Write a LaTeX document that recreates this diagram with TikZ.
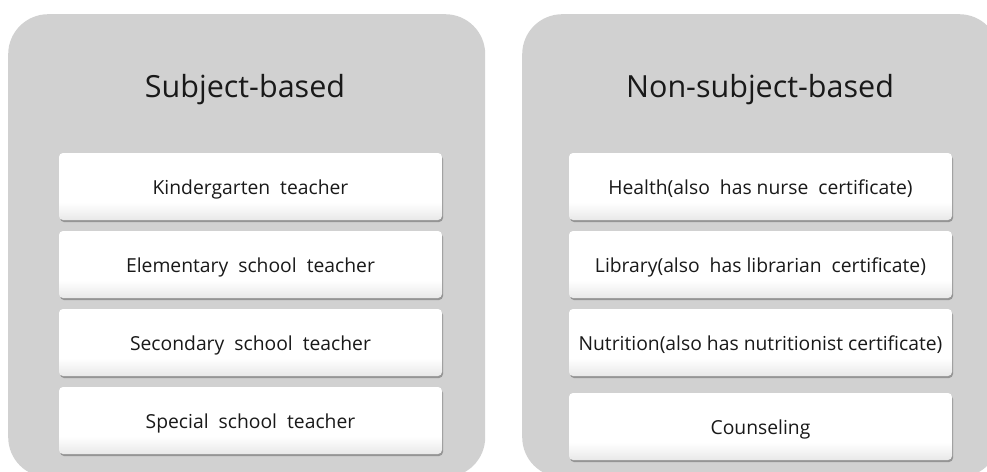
\documentclass[tikz,border=0pt]{standalone}
\usepackage{fontspec}
\setmainfont{Open Sans}
\usetikzlibrary{shadows}
\definecolor{boxlow}{RGB}{232,232,232}
\definecolor{panelgray}{RGB}{209,209,209}
\definecolor{txt}{RGB}{25,25,25}
\pgfdeclareverticalshading{boxshade}{100bp}{color(0bp)=(boxlow); color(25bp)=(boxlow); color(38bp)=(white); color(100bp)=(white)}
\begin{document}
\begin{tikzpicture}[x=1pt,y=-1pt,
  panel/.style={fill=panelgray, draw=none, rounded corners=40pt, minimum width=477pt, minimum height=463pt, anchor=north west, inner sep=0pt},
  title/.style={font=\fontsize{30.5}{34}\selectfont, text=txt, anchor=base},
  item/.style={shading=boxshade, draw=none, rounded corners=4pt, minimum width=383pt, minimum height=67pt, inner sep=0pt,
    font=\fontsize{19.3}{22}\selectfont, text=txt, text height=15pt, text depth=0pt,
    drop shadow={shadow xshift=1pt, shadow yshift=-2pt, opacity=0.45, fill=black!70}}]
\useasboundingbox (0,0) rectangle (987,471);
\begin{scope}
\clip (0,0) rectangle (987,471);
\node[panel] (pl) at (8,14) {};
\node[panel] (pr) at (522,14) {};
\end{scope}
\node[title] (tl) at (245,97) {Subject-based};
\node[title] (tr) at (760,97) {Non-subject-based};
\node[item] (l1) at (250.5,186.5) {Kindergarten\ \ teacher};
\node[item] (l2) at (250.5,264.5) {Elementary\ \ school\ \ teacher};
\node[item] (l3) at (250.5,342.5) {Secondary\ \ school\ \ teacher};
\node[item] (l4) at (250.5,420.5) {Special\ \ school\ \ teacher};
\node[item] (r1) at (760.5,186.5) {Health(also\ \ has nurse\ \ certificate)};
\node[item] (r2) at (760.5,264.5) {Library(also\ \ has librarian\ \ certificate)};
\node[item] (r3) at (760.5,342.5) {Nutrition(also has nutritionist certificate)};
\node[item] (r4) at (760.5,426.5) {Counseling};
\end{tikzpicture}
\end{document}
